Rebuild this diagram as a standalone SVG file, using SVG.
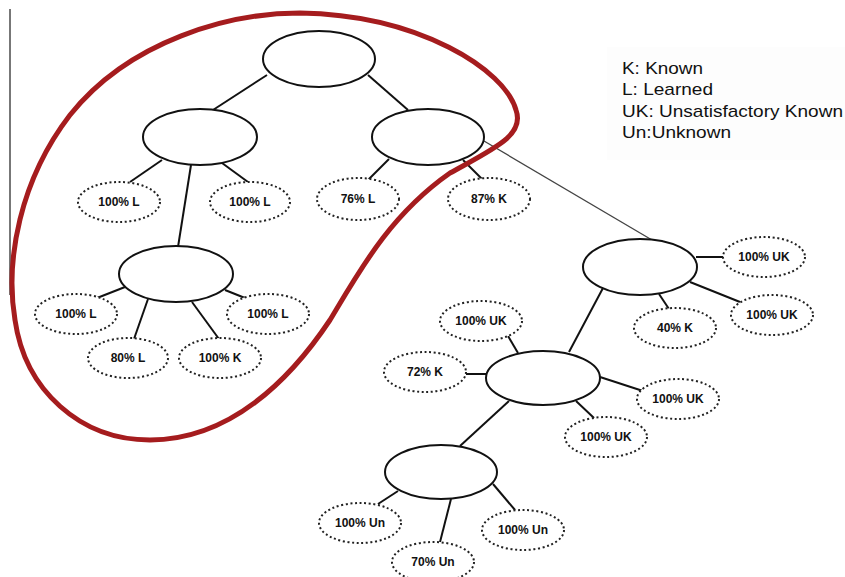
<svg xmlns="http://www.w3.org/2000/svg" width="845" height="577" viewBox="0 0 845 577">
<style>
.n{fill:#fff;stroke:#111;stroke-width:2}
.d{fill:#fff;stroke:#222;stroke-width:2;stroke-dasharray:2 2.6}
.t{font-family:"Liberation Sans",Arial,sans-serif;font-size:12px;font-weight:bold;fill:#111;text-anchor:middle}
.c line{stroke:#111;stroke-width:2}
.lg{font-family:"Liberation Sans",Arial,sans-serif;font-size:17px;fill:#111}
</style>
<rect width="845" height="577" fill="#fff"/>
<line x1="10" y1="9" x2="10" y2="295" stroke="#777" stroke-width="2"/>
<g id="legend">
<rect x="607" y="47" width="238" height="113" fill="#fdfdfd"/>
<text class="lg" x="622" y="74" textLength="81" lengthAdjust="spacingAndGlyphs">K: Known</text>
<text class="lg" x="622" y="95" textLength="91" lengthAdjust="spacingAndGlyphs">L: Learned</text>
<text class="lg" x="622" y="117" textLength="221" lengthAdjust="spacingAndGlyphs">UK: Unsatisfactory Known</text>
<text class="lg" x="622" y="138" textLength="109" lengthAdjust="spacingAndGlyphs">Un:Unknown</text>
</g>
<g class="c" id="connectors">
<line x1="267" y1="75" x2="213" y2="110"/>
<line x1="368" y1="75" x2="408" y2="110"/>
<line x1="162" y1="160" x2="130" y2="182"/>
<line x1="222" y1="163" x2="248" y2="182"/>
<line x1="191" y1="165" x2="178" y2="247"/>
<line x1="389" y1="159" x2="368" y2="180"/>
<line x1="463" y1="160" x2="483" y2="180"/>
<line x1="484" y1="141" x2="652" y2="240" style="stroke:#444;stroke-width:1.3"/>
<line x1="125" y1="287" x2="97" y2="298"/>
<line x1="148" y1="299" x2="134" y2="339"/>
<line x1="192" y1="302" x2="219" y2="339"/>
<line x1="225" y1="290" x2="245" y2="298"/>
<line x1="696" y1="257" x2="723" y2="257"/>
<line x1="690" y1="282" x2="740" y2="302"/>
<line x1="659" y1="294" x2="669" y2="309"/>
<line x1="603" y1="288" x2="569" y2="352"/>
<line x1="518" y1="353" x2="508" y2="336"/>
<line x1="487" y1="374" x2="466" y2="374"/>
<line x1="600" y1="377" x2="643" y2="391"/>
<line x1="576" y1="401" x2="594" y2="418"/>
<line x1="509" y1="401" x2="460" y2="446"/>
<line x1="398" y1="491" x2="378" y2="504"/>
<line x1="451" y1="499" x2="440" y2="542"/>
<line x1="493" y1="484" x2="515" y2="510"/>
</g>
<g id="root"><ellipse class="n" cx="319" cy="59" rx="56" ry="28"/></g>
<g id="n-left"><ellipse class="n" cx="200" cy="137" rx="57" ry="28"/></g>
<g id="n-right"><ellipse class="n" cx="428" cy="137" rx="56" ry="28"/></g>
<g id="n-grand"><ellipse class="n" cx="176" cy="274" rx="57" ry="28"/></g>
<g id="n-far"><ellipse class="n" cx="640" cy="267" rx="57" ry="28"/></g>
<g id="n-center"><ellipse class="n" cx="543" cy="378" rx="57" ry="27"/></g>
<g id="n-bottom"><ellipse class="n" cx="441" cy="472" rx="56" ry="27"/></g>
<g id="l1"><ellipse class="d" cx="119" cy="202" rx="41" ry="20"/><text class="t" x="119" y="206">100% L</text></g>
<g id="l2"><ellipse class="d" cx="250" cy="202" rx="40" ry="20"/><text class="t" x="250" y="206">100% L</text></g>
<g id="l3"><ellipse class="d" cx="358" cy="199" rx="41" ry="21"/><text class="t" x="358" y="203">76% L</text></g>
<g id="l4"><ellipse class="d" cx="489" cy="199" rx="41" ry="21"/><text class="t" x="489" y="203">87% K</text></g>
<g id="l5"><ellipse class="d" cx="76" cy="314" rx="41" ry="20"/><text class="t" x="76" y="318">100% L</text></g>
<g id="l6"><ellipse class="d" cx="128" cy="358" rx="40" ry="20"/><text class="t" x="128" y="362">80% L</text></g>
<g id="l7"><ellipse class="d" cx="220" cy="358" rx="41" ry="20"/><text class="t" x="220" y="362">100% K</text></g>
<g id="l8"><ellipse class="d" cx="268" cy="314" rx="41" ry="20"/><text class="t" x="268" y="318">100% L</text></g>
<g id="l9"><ellipse class="d" cx="764" cy="257" rx="41" ry="20"/><text class="t" x="764" y="261">100% UK</text></g>
<g id="l10"><ellipse class="d" cx="772" cy="315" rx="41" ry="20"/><text class="t" x="772" y="319">100% UK</text></g>
<g id="l11"><ellipse class="d" cx="675" cy="328" rx="41" ry="20"/><text class="t" x="675" y="332">40% K</text></g>
<g id="l12"><ellipse class="d" cx="481" cy="321" rx="41" ry="20"/><text class="t" x="481" y="325">100% UK</text></g>
<g id="l13"><ellipse class="d" cx="425" cy="372" rx="41" ry="20"/><text class="t" x="425" y="376">72% K</text></g>
<g id="l14"><ellipse class="d" cx="678" cy="399" rx="41" ry="20"/><text class="t" x="678" y="403">100% UK</text></g>
<g id="l15"><ellipse class="d" cx="606" cy="437" rx="41" ry="20"/><text class="t" x="606" y="441">100% UK</text></g>
<g id="l16"><ellipse class="d" cx="360" cy="523" rx="41" ry="20"/><text class="t" x="360" y="527">100% Un</text></g>
<g id="l17"><ellipse class="d" cx="433" cy="562" rx="41" ry="20"/><text class="t" x="433" y="566">70% Un</text></g>
<g id="l18"><ellipse class="d" cx="523" cy="530" rx="41" ry="20"/><text class="t" x="523" y="534">100% Un</text></g>
<path id="highlight" d="M300,13 C230,13 130,40 70,115 C20,180 5,260 15,320 C25,390 80,440 150,440 C230,440 290,380 330,320 C360,270 390,215 450,173 C495,148 525,135 516,110 C505,70 420,15 300,13 Z" fill="none" stroke="#a51c1e" stroke-width="5"/>
</svg>
